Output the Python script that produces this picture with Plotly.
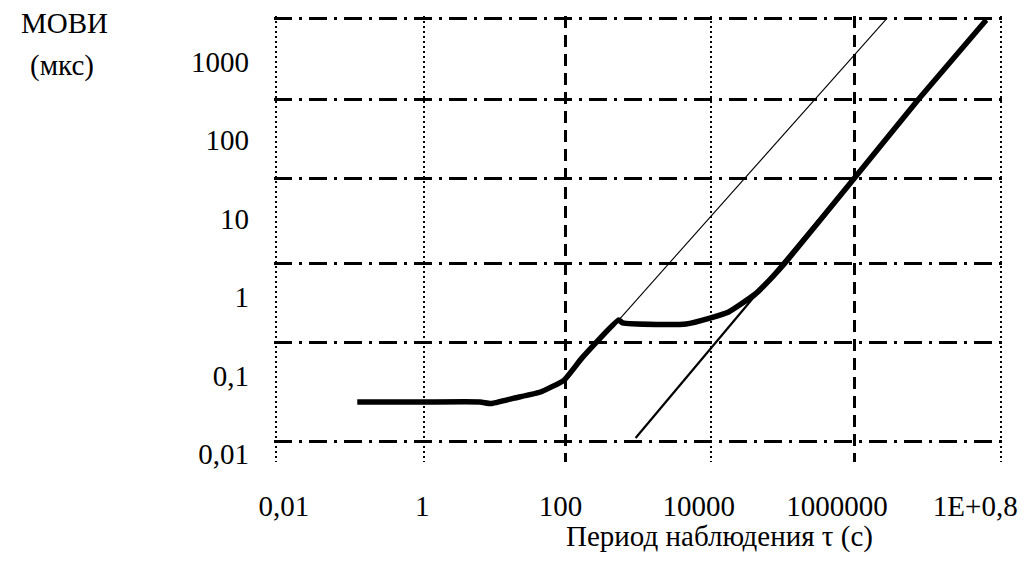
import plotly.graph_objects as go

# ---- data ----
# thick curve: МОВИ of the clock vs observation period
tau_main = [0.115, 1.05, 6.87, 9.87, 21.8, 51.4, 113, 205, 695, 794, 2440, 6560,
            14500, 27100, 65900, 116000, 177000, 1.79e6, 1.52e7, 1.44e8]
movi_main = [0.0458, 0.0458, 0.0458, 0.0438, 0.0515, 0.0614, 0.0873, 0.167, 0.508,
             0.466, 0.446, 0.452, 0.538, 0.643, 1.09, 1.79, 2.71, 32.8, 333, 3390]

# thin upper asymptote
tau_upper = [695, 5.31e6]
movi_upper = [0.508, 3590]

# thin lower asymptote
tau_lower = [1220, 1.44e8]
movi_lower = [0.0159, 3390]

# tick labels
x_tickvals = [0.01, 1, 100, 1e4, 1e6, 1e8]
x_ticktext = ["0,01", "1", "100", "10000", "1000000", "1E+0,8"]
y_tickvals = [0.01, 0.1, 1, 10, 100, 1000]
y_ticktext = ["0,01", "0,1", "1", "10", "100", "1000"]

FONT = "Liberation Serif, Times New Roman, serif"
FS = 29

fig = go.Figure()
fig.add_trace(go.Scatter(x=tau_lower, y=movi_lower, mode="lines",
                         line=dict(color="black", width=2.2), xaxis="x2", yaxis="y",
                         hoverinfo="skip"))
fig.add_trace(go.Scatter(x=tau_upper, y=movi_upper, mode="lines",
                         line=dict(color="black", width=1.1), hoverinfo="skip"))
fig.add_trace(go.Scatter(x=tau_main, y=movi_main, mode="lines",
                         line=dict(color="black", width=5.5, shape="spline", smoothing=0.4),
                         hoverinfo="skip"))

x_range = [-2.144, 8.401]
y_range = [-2.104, 3.581]

fig.update_layout(
    width=1017, height=548,
    margin=dict(l=266, r=15, t=8, b=94),
    paper_bgcolor="white", plot_bgcolor="white",
    showlegend=False,
    font=dict(family=FONT, size=FS, color="black"),
    xaxis=dict(
        type="log", range=x_range,
        tickmode="array", tickvals=x_tickvals, ticktext=x_ticktext,
        showgrid=False, zeroline=False, showline=False, ticks="",
        ticklabelstandoff=24,
        tickfont=dict(family=FONT, size=FS, color="black"),
        minor=dict(tickmode="array",
                   tickvals=[10 ** -2.115, 10 ** 0.02, 10 ** 4.175, 10 ** 8.372],
                   showgrid=True, gridcolor="black", gridwidth=1.5,
                   griddash="2px,3px", ticks=""),
    ),
    xaxis2=dict(
        type="log", range=x_range, overlaying="x", anchor="y", side="bottom",
        tickmode="array", tickvals=[10 ** 2.069, 10 ** 6.252],
        showticklabels=False, showgrid=True, gridcolor="black", gridwidth=2.5,
        griddash="12px,7px", zeroline=False, showline=False, ticks="",
    ),
    yaxis=dict(
        type="log", range=y_range,
        tickmode="array", tickvals=y_tickvals, ticktext=y_ticktext,
        showgrid=False, zeroline=False, showline=False, ticks="",
        ticklabelstandoff=24,
        tickfont=dict(family=FONT, size=FS, color="black"),
        minor=dict(tickmode="array",
                   tickvals=[10 ** v for v in (-1.849, -0.587, 0.432, 1.516, 2.523, 3.555)],
                   showgrid=True, gridcolor="black", gridwidth=2.5,
                   griddash="18px,7px,3px,7px", ticks=""),
    ),
    annotations=[
        dict(text="МОВИ", xref="paper", yref="paper", x=-0.2867, y=0.984,
             xanchor="center", yanchor="middle", showarrow=False,
             font=dict(family=FONT, size=FS, color="black")),
        dict(text="(мкс)", xref="paper", yref="paper", x=-0.2908, y=0.890,
             xanchor="center", yanchor="middle", showarrow=False,
             font=dict(family=FONT, size=FS, color="black")),
        dict(text="Период наблюдения τ (с)", xref="paper", yref="paper",
             x=0.611, y=-0.166, xanchor="center", yanchor="middle", showarrow=False,
             font=dict(family=FONT, size=FS, color="black")),
    ],
)

fig.write_html("out.html")
